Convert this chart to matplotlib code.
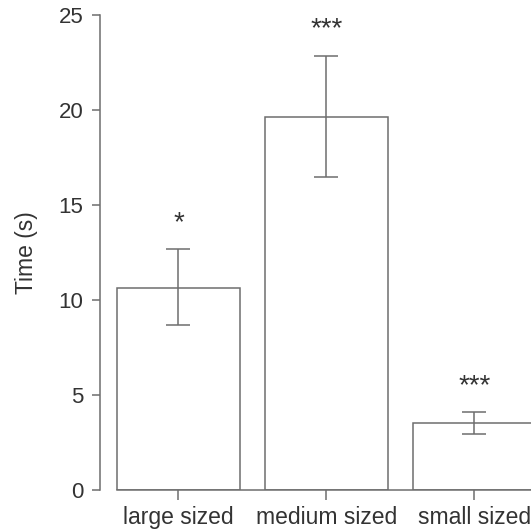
import matplotlib
matplotlib.use("Agg")
import matplotlib.pyplot as plt

# data
categories = ["large sized", "medium sized", "small sized"]
means = [10.65, 19.62, 3.51]
err_low = [8.68, 16.45, 2.93]
err_high = [12.67, 22.85, 4.09]
stars = ["*", "***", "***"]
y_ticks = [0, 5, 10, 15, 20, 25]

_LINE = "#6e6e6e"
_TEXT = "#333333"

plt.rcParams["font.family"] = ["Liberation Sans", "DejaVu Sans"]

fig = plt.figure(figsize=(5.31, 5.31), dpi=100)
ax = fig.add_axes([100 / 531, 41 / 531, 431 / 531, 475 / 531])

x = list(range(len(categories)))
width = 0.83
ax.bar(x, means, width=width, color="white", edgecolor=_LINE,
       linewidth=1.1, zorder=2)

yerr = [[m - lo for m, lo in zip(means, err_low)],
        [hi - m for m, hi in zip(means, err_high)]]
ax.errorbar(x, means, yerr=yerr, fmt="none", ecolor=_LINE,
            elinewidth=1.1, capsize=8.6, capthick=1.1, zorder=3)

for xi, hi, s in zip(x, err_high, stars):
    ax.text(xi, hi + 1.38, s, ha="center", va="center",
            fontsize=20, color=_TEXT, clip_on=False)

ax.set_xlim(-0.53, 2.382)
ax.set_ylim(0, 25)
ax.set_xticks(x)
ax.set_xticklabels(categories)
ax.set_yticks(y_ticks)
ax.set_ylabel("Time (s)", fontsize=16.5, color=_TEXT, labelpad=15)

for spine in ("top", "right"):
    ax.spines[spine].set_visible(False)
for spine in ("left", "bottom"):
    ax.spines[spine].set_color(_LINE)
    ax.spines[spine].set_linewidth(1.1)
ax.spines["left"].set_bounds(0, 25)
ax.spines["bottom"].set_bounds(-width / 2, 2 + width / 2)

ax.tick_params(axis="y", length=5.8, width=1.1, color=_LINE,
               labelsize=16, labelcolor=_TEXT, pad=6)
ax.tick_params(axis="x", length=7.2, width=1.1, color=_LINE,
               labelsize=16.5, labelcolor=_TEXT, pad=4)

fig.savefig("out.png", dpi=100, facecolor="white")
